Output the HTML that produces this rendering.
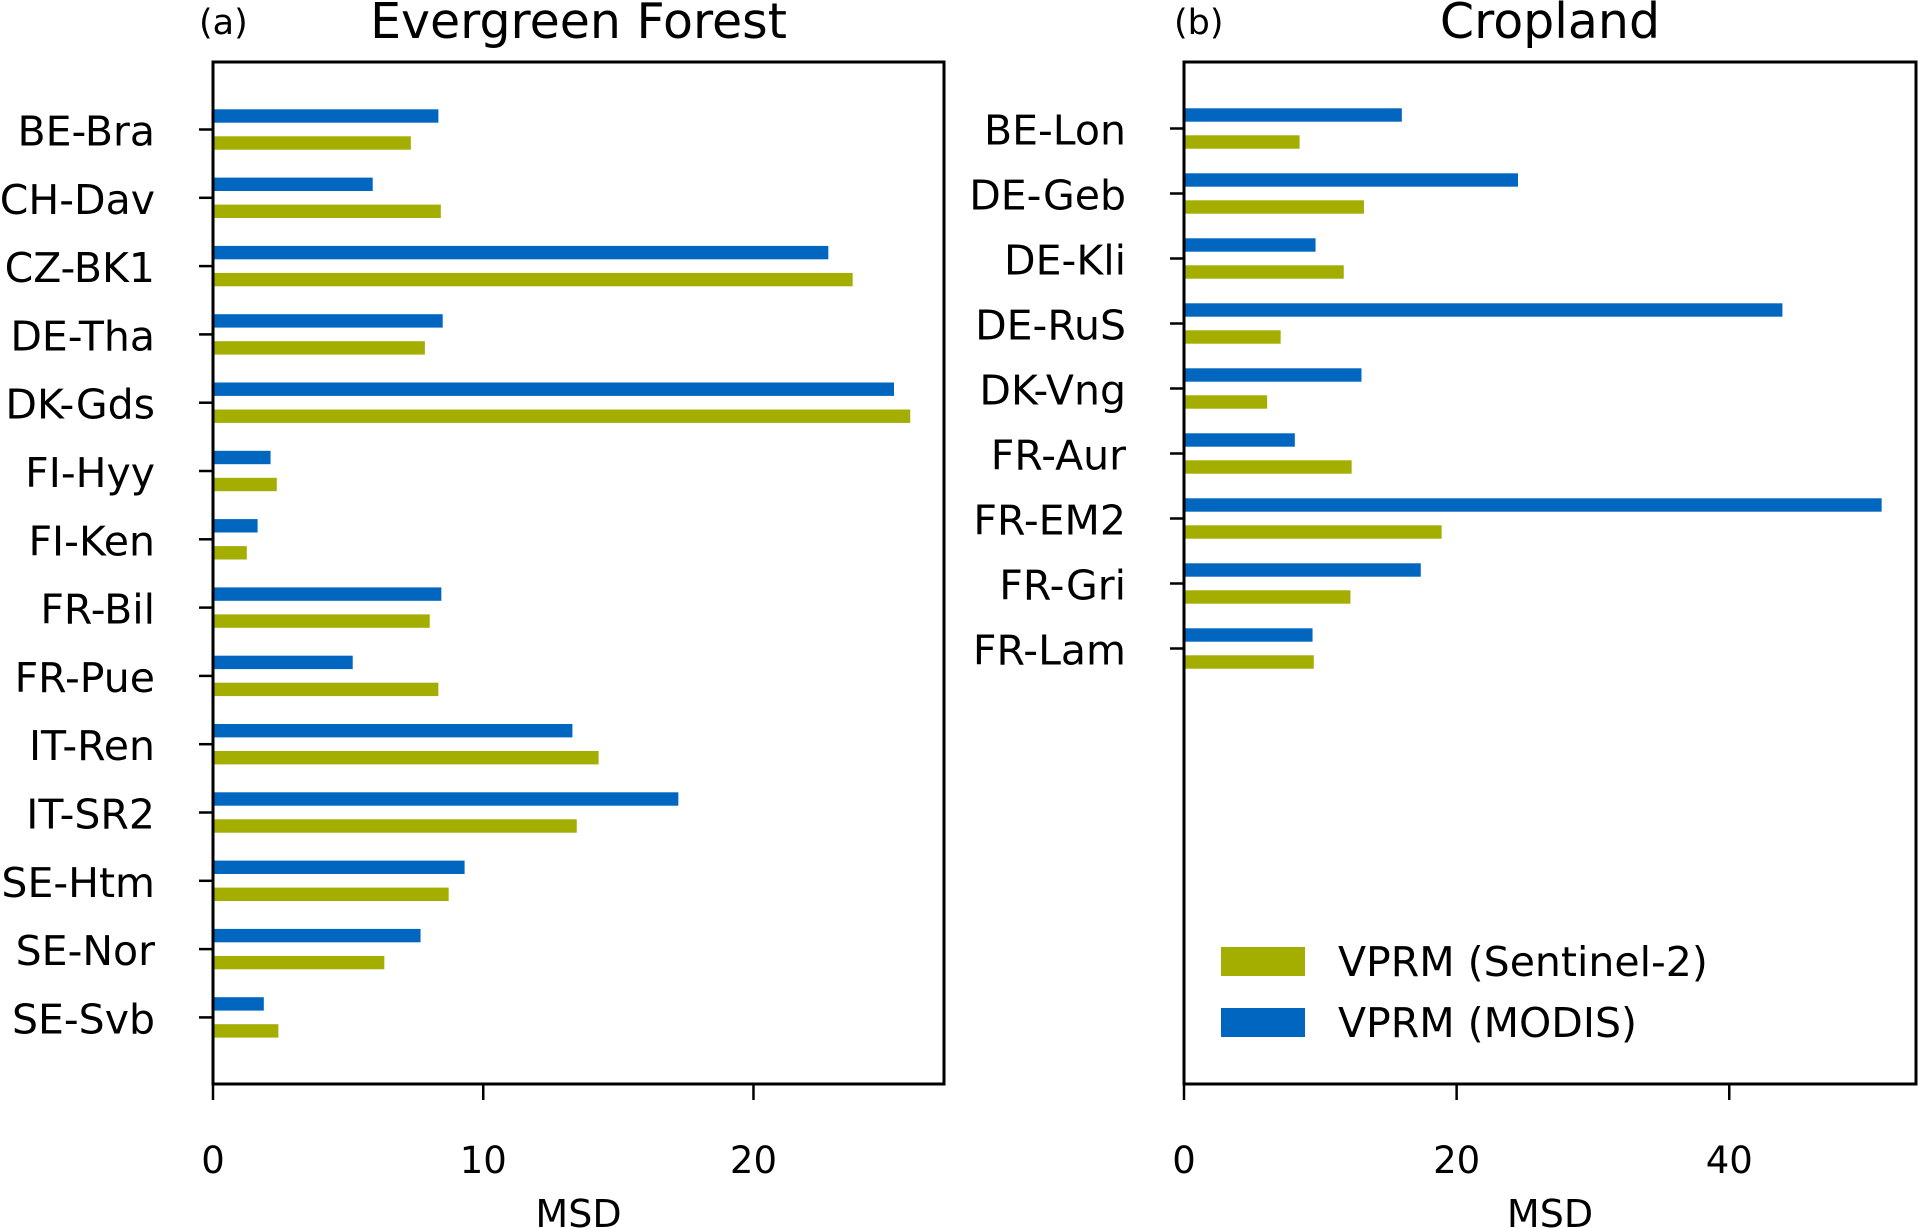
<!DOCTYPE html>
<html><head><meta charset="utf-8"><style>
html,body{margin:0;padding:0;background:#fff;}
svg{display:block;font-family:"DejaVu Sans","Liberation Sans",sans-serif;}
</style></head><body>
<svg id="chart" width="1918" height="1229" viewBox="0 0 1918 1229" xmlns="http://www.w3.org/2000/svg"></svg>
<script>
const forestSites=["BE-Bra","CH-Dav","CZ-BK1","DE-Tha","DK-Gds","FI-Hyy","FI-Ken","FR-Bil","FR-Pue","IT-Ren","IT-SR2","SE-Htm","SE-Nor","SE-Svb"];
const forestModis=[8.34,5.91,22.77,8.50,25.2,2.13,1.65,8.45,5.17,13.3,17.22,9.31,7.68,1.88];
const forestS2=[7.32,8.43,23.67,7.84,25.8,2.36,1.25,8.02,8.34,14.27,13.46,8.72,6.34,2.42];
const forestTicks=[0,10,20];
const cropSites=["BE-Lon","DE-Geb","DE-Kli","DE-RuS","DK-Vng","FR-Aur","FR-EM2","FR-Gri","FR-Lam"];
const cropModis=[15.98,24.5,9.65,43.9,13.02,8.13,51.18,17.37,9.43];
const cropS2=[8.48,13.2,11.72,7.09,6.1,12.3,18.9,12.21,9.52];
const cropTicks=[0,20,40];

const NS="http://www.w3.org/2000/svg";
const svg=document.getElementById('chart');
const BLUE="#0066bf", GREEN="#a3ae00";
function mk(tag,attrs,parent){const e=document.createElementNS(NS,tag);for(const k in attrs)e.setAttribute(k,attrs[k]);(parent||svg).appendChild(e);return e;}

function panel(o){
  const g=mk('g',{});
  
  
  const xs=v=>o.x0+(v/o.xmax)*(o.x1-o.x0);
  const ys=i=>o.yFirst+i*o.ySpace;
  o.sites.forEach((s,i)=>{
    const b=mk('rect',{x:o.x0,y:ys(i)-13.5-6.7,width:xs(o.modis[i])-o.x0,height:13.4,fill:BLUE},g);
    
    
    const c=mk('rect',{x:o.x0,y:ys(i)+13.5-6.7,width:xs(o.s2[i])-o.x0,height:13.4,fill:GREEN},g);
    
    
    const t=mk('line',{x1:o.x0-14,x2:o.x0,y1:ys(i),y2:ys(i),stroke:'#000','stroke-width':2.5},g);
    
    
    const l=mk('text',{x:o.x0-58,y:ys(i)+16,'text-anchor':'end','font-size':41,fill:'#000'},g);
    l.textContent=s;
    
    
  });
  o.ticks.forEach(v=>{
    const t=mk('line',{x1:xs(v),x2:xs(v),y1:o.y1,y2:o.y1+16,stroke:'#000','stroke-width':2.5},g);
    
    
    const l=mk('text',{x:xs(v),y:1173,'text-anchor':'middle','font-size':37,fill:'#000'},g);
    l.textContent=String(v);
    
    
  });
  const fr=mk('rect',{x:o.x0,y:o.y0,width:o.x1-o.x0,height:o.y1-o.y0,fill:'none',stroke:'#000','stroke-width':3},g);
  
  
  const ti=mk('text',{x:(o.x0+o.x1)/2,y:38,'text-anchor':'middle','font-size':49,fill:'#000'},g);
  ti.textContent=o.title;
  
  
  const lb=mk('text',{x:o.labelX,y:34,'font-size':35,fill:'#000'},g);
  lb.textContent=o.label;
  
  
  const xt=mk('text',{x:(o.x0+o.x1)/2,y:1227,'text-anchor':'middle','font-size':38,fill:'#000'},g);
  xt.textContent='MSD';
  
  
}
panel({name:'evergreen-forest',sites:forestSites,modis:forestModis,s2:forestS2,ticks:forestTicks,x0:213,x1:944,xmax:27.05,y0:62,y1:1084,yFirst:129.5,ySpace:68.3,title:'Evergreen Forest',label:'(a)',labelX:199});
panel({name:'cropland',sites:cropSites,modis:cropModis,s2:cropS2,ticks:cropTicks,x0:1184,x1:1916,xmax:53.7,y0:62,y1:1084,yFirst:128.5,ySpace:65,title:'Cropland',label:'(b)',labelX:1174});

const lg=mk('g',{});


[["VPRM (Sentinel-2)",GREEN,947],["VPRM (MODIS)",BLUE,1008]].forEach(([t,c,y])=>{
  const r=mk('rect',{x:1221,y:y,width:84,height:29,fill:c},lg);
  
  
  const tx=mk('text',{x:1338,y:y+29,'font-size':41,fill:'#000'},lg);
  tx.textContent=t;
  
  
});
</script>
</body></html>
